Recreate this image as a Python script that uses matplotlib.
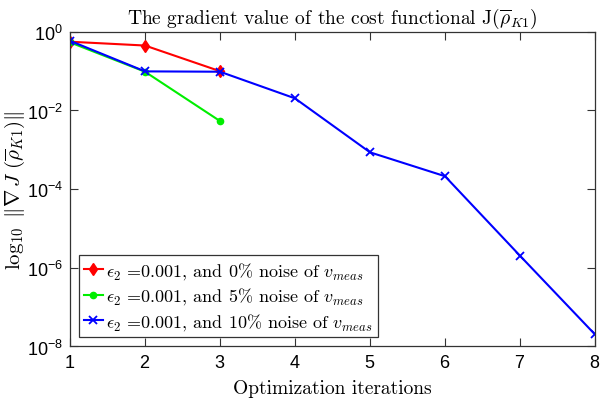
import matplotlib
matplotlib.use("Agg")
import matplotlib.pyplot as plt
from matplotlib.ticker import FixedLocator, FuncFormatter
import numpy as np

iters_red = [1, 2, 3]
grad_red = [0.55, 0.44, 0.098]
iters_green = [1, 2, 3]
grad_green = [0.53, 0.095, 0.0053]
iters_blue = [1, 2, 3, 4, 5, 6, 7, 8]
grad_blue = [0.58, 0.097, 0.095, 0.020, 8.5e-4, 2.1e-4, 2.0e-6, 2.0e-8]

labels = [
    r"$\epsilon_2$ =0.001, and 0% noise of $v_{meas}$",
    r"$\epsilon_2$ =0.001, and 5% noise of $v_{meas}$",
    r"$\epsilon_2$ =0.001, and 10% noise of $v_{meas}$",
]
y_decades = [-8, -6, -4, -2, 0]

# computer-modern text, sans (helvetica-like) tick labels via \mathsf
plt.rcParams["mathtext.fontset"] = "custom"
plt.rcParams["mathtext.rm"] = "cmr10"
plt.rcParams["mathtext.it"] = "cmmi10"
plt.rcParams["mathtext.bf"] = "cmb10"
plt.rcParams["mathtext.sf"] = "Liberation Sans"
plt.rcParams["mathtext.fallback"] = "cm"
plt.rcParams["font.family"] = "serif"
plt.rcParams["font.serif"] = ["cmr10"]
plt.rcParams["axes.formatter.use_mathtext"] = True

fig = plt.figure(figsize=(6.09, 4.10), dpi=100)
ax = fig.add_axes([70 / 609, 1 - 347.3 / 410, 525 / 609, (347.3 - 32.5) / 410])

ax.plot(iters_red, grad_red, color="red", marker="d", markersize=6, lw=1.5, label=labels[0])
ax.plot(iters_green, grad_green, color="#00ee00", marker="o", markersize=4.5, lw=1.5, label=labels[1])
ax.plot(iters_blue, grad_blue, color="blue", marker="x", markersize=6, mew=1.3, lw=1.5, label=labels[2])

ax.set_yscale("log")
ax.set_xlim(1, 8)
ax.set_ylim(1e-8, 1)
ax.yaxis.set_major_locator(FixedLocator([10.0 ** d for d in y_decades]))
ax.yaxis.set_minor_locator(FixedLocator([]))
ax.yaxis.set_major_formatter(FuncFormatter(
    lambda v, pos: r"$\mathsf{10^{%d}}$" % int(round(np.log10(v)))))
ax.set_xticks(iters_blue)
ax.set_xticklabels([r"$\mathsf{%d}$" % i for i in iters_blue])

ax.tick_params(direction="in", top=True, right=True, labelsize=13,
               color="#333333", length=6, pad=5)
for s in ax.spines.values():
    s.set_color("#333333")
    s.set_linewidth(0.9)

ax.set_title(r"The gradient value of the cost functional J$(\overline{\rho}_{K1})$",
             fontsize=14, pad=6)
ax.set_xlabel("Optimization iterations", fontsize=14, labelpad=6)
ax.set_ylabel(r"$\log_{10}\ \Vert\nabla\,J\ (\overline{\rho}_{K1})\Vert$", fontsize=15, labelpad=0)

leg = ax.legend(loc="lower left", fontsize=13, handlelength=1.0, handletextpad=0.2,
                borderaxespad=0.5, fancybox=False, edgecolor="#333333",
                labelspacing=0.25, borderpad=0.3, framealpha=1)
leg.get_frame().set_linewidth(0.9)

fig.savefig("out.png", dpi=100)
